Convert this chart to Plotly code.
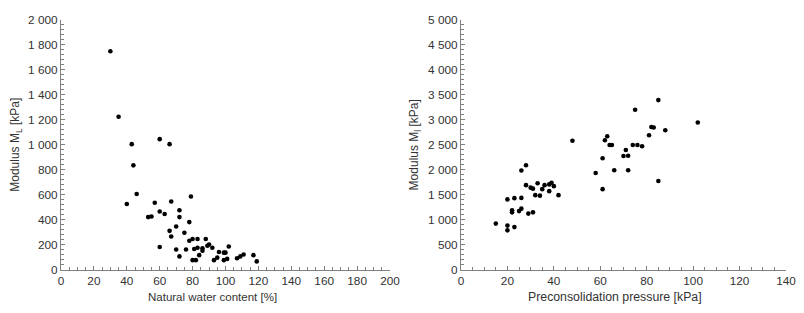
import plotly.graph_objects as go
from plotly.subplots import make_subplots

# Left: natural water content [%] vs modulus M_L [kPa]
water_content = [30, 35, 43, 60, 66, 44, 46, 40, 57, 67, 79, 53, 55, 60, 63, 72, 72, 70, 78, 66,
                 67, 75, 60, 70, 72, 76, 78, 80, 83, 88, 81, 83, 86, 86, 89, 90, 92, 84, 80, 82,
                 93, 95, 96, 99, 100, 99, 101, 102, 107, 109, 111, 117, 119]
modulus_left = [1750, 1225, 1005, 1045, 1005, 835, 605, 525, 535, 545, 585, 420, 425, 465, 445, 475,
                420, 345, 380, 310, 265, 295, 180, 160, 105, 160, 230, 245, 245, 245, 165, 175, 170,
                150, 190, 200, 175, 115, 75, 75, 75, 95, 140, 135, 135, 75, 85, 185, 90, 105, 120,
                115, 65]

# Right: preconsolidation pressure [kPa] vs modulus M_L [kPa]
precon_pressure = [15, 20, 20, 23, 20, 23, 26, 22, 22, 25, 26, 29, 31, 26, 28, 28, 30, 31, 33, 32,
                   34, 35, 36, 38, 38, 39, 40, 42, 48, 58, 61, 61, 62, 63, 64, 65, 66, 70, 71, 72,
                   72, 74, 75, 76, 78, 81, 82, 83, 85, 85, 88, 102]
modulus_right = [920, 880, 785, 850, 1405, 1430, 1435, 1185, 1145, 1170, 1220, 1120, 1145, 1985,
                 2090, 1690, 1640, 1620, 1730, 1490, 1480, 1610, 1690, 1570, 1705, 1740, 1670,
                 1490, 2580, 1935, 2230, 1610, 2590, 2670, 2495, 2495, 1990, 2275, 2395, 2280,
                 1990, 2495, 3200, 2495, 2470, 2690, 2855, 2845, 3395, 1775, 2790, 2945]

FONT = "Liberation Sans, Arial, sans-serif"
TXT = "#333333"
AX = "#808080"

fig = make_subplots(rows=1, cols=2)
marker = dict(color="black", size=4.6)
fig.add_trace(go.Scatter(x=water_content, y=modulus_left, mode="markers", marker=marker,
                         cliponaxis=False, showlegend=False), row=1, col=1)
fig.add_trace(go.Scatter(x=precon_pressure, y=modulus_right, mode="markers", marker=marker,
                         cliponaxis=False, showlegend=False), row=1, col=2)

common = dict(showgrid=False, zeroline=False, showline=True, linecolor=AX, linewidth=1,
              automargin=False, ticks="inside", ticklen=4, tickcolor=AX,
              tickfont=dict(family=FONT, size=11.8, color=TXT))

ydom = [0.1426, 0.9607]
fig.update_xaxes(common, domain=[0.0666, 0.4799], range=[0, 200], dtick=20,
                 minor=dict(ticks="inside", dtick=5, ticklen=3, tickcolor=AX),
                 row=1, col=1)
fig.update_yaxes(common, domain=ydom, range=[0, 2000], dtick=200, separatethousands=True,
                 minor=dict(ticks="inside", dtick=40, ticklen=3, tickcolor=AX),
                 title=dict(text="Modulus M<sub>L</sub> [kPa]", font=dict(family=FONT, size=12, color=TXT), standoff=6),
                 row=1, col=1)
fig.update_xaxes(common, domain=[0.5691, 0.9774], range=[0, 140], dtick=20,
                 minor=dict(ticks="inside", dtick=5, ticklen=3, tickcolor=AX),
                 row=1, col=2)
fig.update_yaxes(common, domain=ydom, range=[0, 5000], dtick=500, separatethousands=True,
                 minor=dict(ticks="inside", dtick=100, ticklen=3, tickcolor=AX),
                 title=dict(text="Modulus M<sub>l</sub> [kPa]", font=dict(family=FONT, size=12, color=TXT), standoff=6),
                 row=1, col=2)

# x-axis titles (placed slightly left of centre, as in the original)
fig.add_annotation(text="Natural water content [%]", xref="paper", yref="paper",
                   x=0.2575, y=0.0525, showarrow=False, xanchor="center", yanchor="middle",
                   font=dict(family=FONT, size=11.5, color=TXT))
fig.add_annotation(text="Preconsolidation pressure [kPa]", xref="paper", yref="paper",
                   x=0.7626, y=0.0525, showarrow=False, xanchor="center", yanchor="middle",
                   font=dict(family=FONT, size=12.3, color=TXT))

fig.update_layout(width=796, height=305, margin=dict(l=0, r=0, t=0, b=0),
                  paper_bgcolor="white", plot_bgcolor="white", separators=". ",
                  font=dict(family=FONT, color=TXT))
fig.write_html("out.html")
